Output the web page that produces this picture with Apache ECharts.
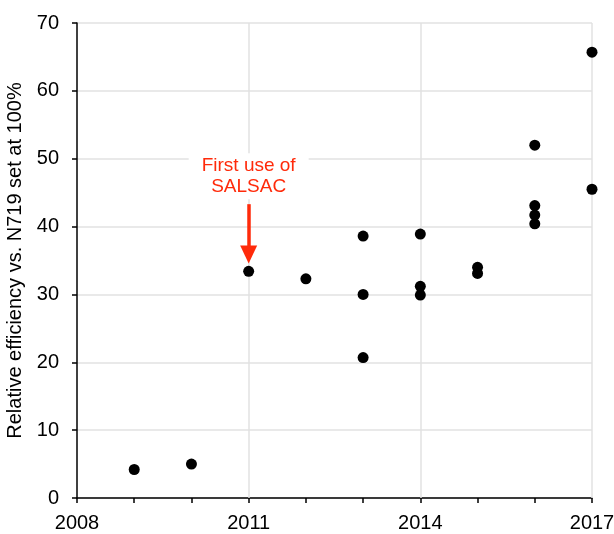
<!DOCTYPE html>
<html>
<head>
<meta charset="utf-8">
<script src="https://cdn.jsdelivr.net/npm/echarts@6/dist/echarts.min.js"></script>
<style>
  html, body { margin: 0; padding: 0; background: #fff; }
  #chart { width: 614px; height: 534px; }
</style>
</head>
<body>
<div id="chart"></div>
<script>
// Reported cells by year and their efficiency relative to N719 (=100%)
const years = [2009, 2010, 2011, 2012, 2013, 2013, 2013, 2014, 2014, 2014, 2015, 2015, 2016, 2016, 2016, 2016, 2017, 2017];
const efficiency = [4.2, 5.0, 33.4, 32.3, 38.6, 30.0, 20.7, 38.9, 31.2, 29.9, 34.0, 33.1, 52.0, 43.1, 41.7, 40.4, 65.7, 45.5];
const yearLabels = [2008, 2011, 2014, 2017];
const yTicks = [0, 10, 20, 30, 40, 50, 60, 70];

// Annotation for the first SALSAC result
const noteText = 'First use of\nSALSAC';
const noteYear = 2011;
const noteValue = 47.4;
const arrowFrom = 43.3;
const arrowTo = 35.9;

const points = years.map((y, i) => [y, efficiency[i]]);
const font = 'Liberation Sans, Arial, sans-serif';
const red = '#ff2a0a';

const chart = echarts.init(document.getElementById('chart'), null, { renderer: 'canvas' });
chart.setOption({
  animation: false,
  grid: { left: 77, right: 22, top: 23, bottom: 36, containLabel: false, outerBoundsMode: 'none' },
  xAxis: {
    type: 'value',
    min: 2008, max: 2017, interval: 1,
    axisLine: { show: true, lineStyle: { color: '#000', width: 1.5 } },
    axisTick: { show: true, inside: false, length: 5, lineStyle: { color: '#000', width: 1.5 } },
    splitLine: { show: false },
    axisLabel: {
      color: '#000', fontSize: 20, fontFamily: font, margin: 15,
      formatter: v => yearLabels.includes(v) ? String(v) : ''
    }
  },
  yAxis: {
    type: 'value',
    min: yTicks[0], max: yTicks[yTicks.length - 1], interval: 10,
    name: 'Relative efficiency vs. N719 set at 100%',
    nameLocation: 'middle', nameGap: 44,
    nameTextStyle: { color: '#000', fontSize: 20, fontFamily: font },
    axisLine: { show: true, lineStyle: { color: '#000', width: 1.5 } },
    axisTick: { show: true, inside: false, length: 5, lineStyle: { color: '#000', width: 1.5 } },
    splitLine: { show: true, lineStyle: { color: '#e2e2e2', width: 1.5 } },
    axisLabel: { color: '#000', fontSize: 20, fontFamily: font, margin: 18 }
  },
  series: [
    {
      // vertical gridlines every three years
      type: 'line',
      data: [],
      silent: true,
      markLine: {
        silent: true, symbol: 'none', label: { show: false },
        lineStyle: { color: '#e2e2e2', width: 1.5, type: 'solid' },
        data: yearLabels.slice(1).map(v => ({ xAxis: v }))
      },
      z: 1
    },
    {
      type: 'scatter',
      data: points,
      symbol: 'circle',
      symbolSize: 11,
      itemStyle: { color: '#000', opacity: 1 },
      z: 5,
      markLine: {
        silent: true,
        symbol: ['none', 'triangle'],
        symbolSize: [17, 18],
        label: { show: false },
        lineStyle: { color: red, width: 3.5, type: 'solid' },
        data: [[{ coord: [noteYear, arrowFrom] }, { coord: [noteYear, arrowTo] }]]
      },
      markPoint: {
        silent: true,
        symbol: 'rect',
        symbolSize: 1,
        itemStyle: { color: 'rgba(0,0,0,0)' },
        label: {
          show: true, position: 'inside',
          formatter: noteText,
          color: red, fontSize: 19, fontFamily: font, lineHeight: 21,
          backgroundColor: '#fff', padding: [2, 13]
        },
        data: [{ coord: [noteYear, noteValue] }]
      }
    }
  ]
});
</script>
</body>
</html>
